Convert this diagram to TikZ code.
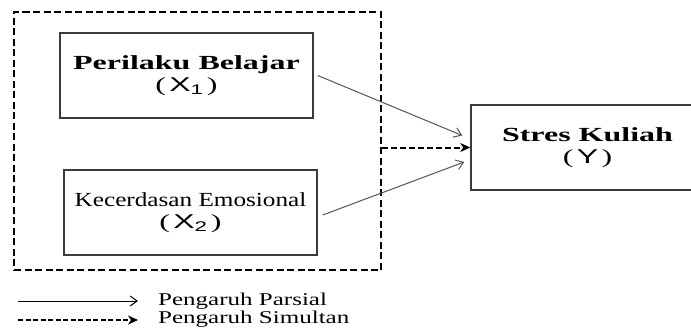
\documentclass[tikz,border=0pt]{standalone}
\usepackage{fontspec}
\setmainfont{Liberation Serif}
\newfontfamily\widefont[FakeStretch=1.6]{Liberation Serif}
\newfontfamily\midfont[FakeStretch=1.26]{Liberation Serif}
\newfontfamily\varfont[FakeStretch=1.6]{Liberation Sans}
\usetikzlibrary{arrows.meta}
\definecolor{boxgray}{HTML}{3A3A3A}
\definecolor{arrgray}{HTML}{555555}
\tikzset{
  varbox/.style={draw=boxgray, line width=1.5pt, align=center, inner sep=0pt,
    font=\fontsize{20}{21.5}\selectfont},
  simbox/.style={draw=black, line width=2.4pt, dash pattern=on 7pt off 3.5pt},
  parsial/.style={draw=arrgray, line width=1pt, -{Straight Barb[length=7pt,width=10pt]}},
  simultan/.style={draw=black, line width=2pt, dash pattern=on 6pt off 3pt, -{Stealth[length=10pt,width=9pt,inset=3pt]}},
  legtext/.style={anchor=base west, inner sep=0pt, font=\fontsize{18}{18}\selectfont}
}
\newcommand{\varx}[1]{(\,{\varfont X\textsubscript{#1}}\,)}
\newcommand{\legwide}[1]{\scalebox{1.39}[1]{#1}}
\begin{document}
\begin{tikzpicture}[x=1pt, y=-1pt]
  \useasboundingbox (0,0) rectangle (691,335);
  % simultaneous group
  \node (sim) at (197.5,141) [simbox, minimum width=367pt, minimum height=258pt] {};
  % variables
  \node (x1) at (186.5,75.5) [varbox, minimum width=253pt, minimum height=85pt]
    {{\widefont\bfseries Perilaku Belajar}\\ {\widefont\varx{1}}};
  \node (x2) at (190.5,212.5) [varbox, minimum width=253pt, minimum height=85pt]
    {{\midfont Kecerdasan Emosional}\\ {\widefont\varx{2}}};
  \node (y) at (587.5,147.5) [varbox, minimum width=233pt, minimum height=85pt]
    {{\widefont\bfseries Stres Kuliah}\\ {\widefont(\,{\varfont Y}\,)}};
  % arrows
  \draw[parsial] ([xshift=4pt]x1.east) -- ([xshift=-8pt,yshift=12pt]y.west);
  \draw[parsial] ([xshift=5pt,yshift=-2.5pt]x2.east) -- ([xshift=-6pt,yshift=-14.5pt]y.west);
  \draw[simultan] (sim.east |- y.west) -- (y.west);
  % legend
  \node (lp) at (158,305) [legtext] {\legwide{Pengaruh Parsial}};
  \node (ls) at (158,323) [legtext] {\legwide{Pengaruh Simultan}};
  \coordinate (lp0) at (18,301);
  \coordinate (ls0) at (18,320);
  \draw[parsial, draw=black] (lp0) -- (lp0 -| 138,0);
  \draw[simultan, line width=1.5pt, dash pattern=on 5pt off 2.5pt] (ls0) -- (ls0 -| 138,0);
\end{tikzpicture}
\end{document}
